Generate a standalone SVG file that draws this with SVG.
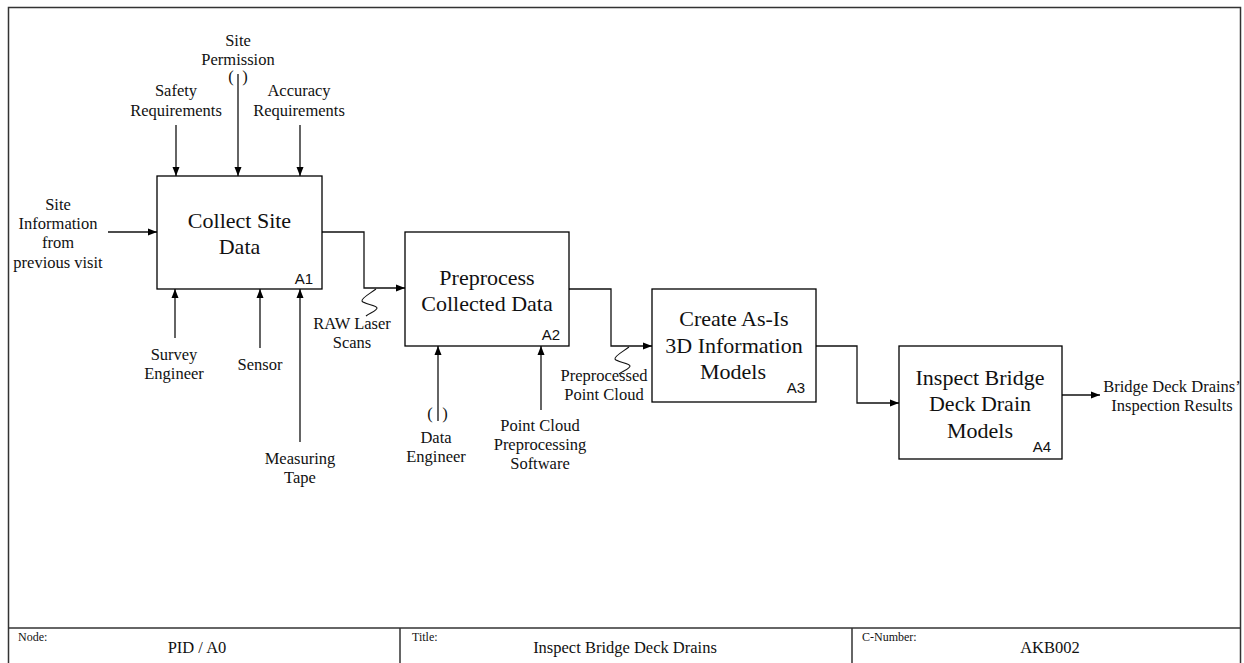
<svg xmlns="http://www.w3.org/2000/svg" width="1244" height="663" viewBox="0 0 1244 663">
<style>
.frame{fill:none;stroke:#333;stroke-width:1.5}
.box{fill:#fff;stroke:#000;stroke-width:1.3}
.c{fill:none;stroke:#111;stroke-width:1.3}
.sq{fill:none;stroke:#111;stroke-width:1.1}
.lbl{font-family:"Liberation Serif","Times New Roman",serif;font-size:16.5px;fill:#111;text-anchor:middle}
.ttl{font-family:"Liberation Serif","Times New Roman",serif;font-size:22px;fill:#111;text-anchor:middle}
.num{font-family:"Liberation Sans",Arial,sans-serif;font-size:15px;fill:#111;text-anchor:end}
.fsm{font-family:"Liberation Serif","Times New Roman",serif;font-size:12px;fill:#111}
.fval{font-family:"Liberation Serif","Times New Roman",serif;font-size:16.5px;fill:#111;text-anchor:middle}
</style>
<defs>
<marker id="ah" markerWidth="10" markerHeight="8" refX="9" refY="4" orient="auto" markerUnits="userSpaceOnUse">
<path d="M0,0.5 L9,4 L0,7.5 z" fill="#000"/>
</marker>
</defs>
<rect width="1244" height="663" fill="#fff"/>
<g id="frame">
<rect class="frame" x="8.5" y="7.5" width="1232" height="700"/>
<line class="frame" x1="8.5" y1="628" x2="1240.5" y2="628"/>
<line class="frame" x1="400" y1="628" x2="400" y2="663"/>
<line class="frame" x1="852" y1="628" x2="852" y2="663"/>
<text class="fsm" x="18" y="641">Node:</text>
<text class="fval" x="197" y="653">PID / A0</text>
<text class="fsm" x="412" y="641">Title:</text>
<text class="fval" x="625" y="653">Inspect Bridge Deck Drains</text>
<text class="fsm" x="862" y="641">C-Number:</text>
<text class="fval" x="1050" y="653">AKB002</text>
</g>
<g id="connectors">
<path class="c" d="M108,232 H157" marker-end="url(#ah)"/>
<path class="c" d="M176,125 V176" marker-end="url(#ah)"/>
<path class="c" d="M238,74 V176" marker-end="url(#ah)"/>
<path class="c" d="M300,125 V176" marker-end="url(#ah)"/>
<path class="c" d="M175,338 V289" marker-end="url(#ah)"/>
<path class="c" d="M260,348 V289" marker-end="url(#ah)"/>
<path class="c" d="M300,442 V289" marker-end="url(#ah)"/>
<path class="c" d="M322,232 H364 V288 H405" marker-end="url(#ah)"/>
<path class="c" d="M569,289 H611 V346 H652" marker-end="url(#ah)"/>
<path class="c" d="M816,346 H857 V403 H899" marker-end="url(#ah)"/>
<path class="c" d="M1062,395 H1100" marker-end="url(#ah)"/>
<path class="c" d="M438,421 V346" marker-end="url(#ah)"/>
<path class="c" d="M541,410 V346" marker-end="url(#ah)"/>
<path class="sq" d="M376,289 C371,293 361,298 362,301 C363,304 377,305 377,308 C377,311 369,313 366,316"/>
<path class="sq" d="M629,347 C624,351 614,356 615,359 C616,362 630,363 630,366 C630,369 622,371 619,374"/>
</g>
<g id="labels">
<text class="lbl" x="238" y="46">Site</text>
<text class="lbl" x="238" y="65">Permission</text>
<text class="lbl" x="231" y="82">(</text>
<text class="lbl" x="245" y="82">)</text>
<text class="lbl" x="176" y="96">Safety</text>
<text class="lbl" x="176" y="116">Requirements</text>
<text class="lbl" x="299" y="96">Accuracy</text>
<text class="lbl" x="299" y="116">Requirements</text>
<text class="lbl" x="58" y="210">Site</text>
<text class="lbl" x="58" y="229">Information</text>
<text class="lbl" x="58" y="248">from</text>
<text class="lbl" x="58" y="268">previous visit</text>
<text class="lbl" x="174" y="360">Survey</text>
<text class="lbl" x="174" y="379">Engineer</text>
<text class="lbl" x="260" y="370">Sensor</text>
<text class="lbl" x="300" y="464">Measuring</text>
<text class="lbl" x="300" y="483">Tape</text>
<text class="lbl" x="352" y="329">RAW Laser</text>
<text class="lbl" x="352" y="348">Scans</text>
<text class="lbl" x="430" y="419">(</text>
<text class="lbl" x="445" y="419">)</text>
<text class="lbl" x="436" y="443">Data</text>
<text class="lbl" x="436" y="462">Engineer</text>
<text class="lbl" x="540" y="431">Point Cloud</text>
<text class="lbl" x="540" y="450">Preprocessing</text>
<text class="lbl" x="540" y="469">Software</text>
<text class="lbl" x="604" y="381">Preprocessed</text>
<text class="lbl" x="604" y="400">Point Cloud</text>
<text class="lbl" x="1172" y="392">Bridge Deck Drains’</text>
<text class="lbl" x="1172" y="411">Inspection Results</text>
</g>
<g id="A1">
<rect class="box" x="157" y="176" width="165" height="113"/>
<text class="ttl" x="239.5" y="228">Collect Site</text>
<text class="ttl" x="239.5" y="254">Data</text>
<text class="num" x="313" y="284">A1</text>
</g>
<g id="A2">
<rect class="box" x="405" y="232" width="164" height="114"/>
<text class="ttl" x="487" y="285">Preprocess</text>
<text class="ttl" x="487" y="311">Collected Data</text>
<text class="num" x="560" y="340">A2</text>
</g>
<g id="A3">
<rect class="box" x="652" y="289" width="164" height="113"/>
<text class="ttl" x="734" y="326">Create As-Is</text>
<text class="ttl" x="734" y="353">3D Information</text>
<text class="ttl" x="733" y="379">Models</text>
<text class="num" x="805" y="393">A3</text>
</g>
<g id="A4">
<rect class="box" x="899" y="346" width="163" height="113"/>
<text class="ttl" x="980" y="385">Inspect Bridge</text>
<text class="ttl" x="980" y="411">Deck Drain</text>
<text class="ttl" x="980" y="438">Models</text>
<text class="num" x="1051" y="452">A4</text>
</g>
</svg>
